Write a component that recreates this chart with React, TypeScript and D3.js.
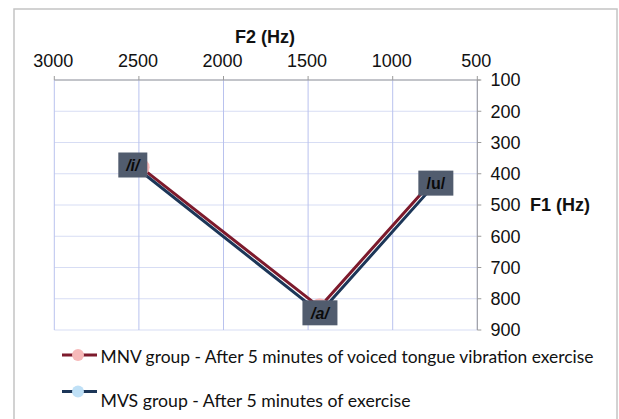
import React from "react";
import * as d3 from "d3";

const vowels = ["/i/", "/a/", "/u/"];
const mnvF2 = [2490, 1432, 758];
const mnvF1 = [379, 827, 419];
const mvsF2 = [2536, 1430, 745];
const mvsF1 = [372, 845, 430];
const xTicks = [3000, 2500, 2000, 1500, 1000, 500];
const yTicks = [100, 200, 300, 400, 500, 600, 700, 800, 900];
const seriesNames = [
  "MNV group - After 5 minutes of voiced tongue vibration exercise",
  "MVS group - After 5 minutes of exercise",
];

const W = 619;
const H = 419;

export default function App() {
  const x = d3.scaleLinear().domain([3000, 500]).range([54.3, 477.3]);
  const y = d3.scaleLinear().domain([100, 900]).range([80, 330]);
  const line = d3
    .line<[number, number]>()
    .x((d) => x(d[0]))
    .y((d) => y(d[1]));

  const mnv: [number, number][] = mnvF2.map((f2, i) => [f2, mnvF1[i]]);
  const mvs: [number, number][] = mvsF2.map((f2, i) => [f2, mvsF1[i]]);

  const series = [
    { pts: mnv, stroke: "#7d1a2c", fill: "#f6b9b9" },
    { pts: mvs, stroke: "#1c3658", fill: "#bfe0f6" },
  ];

  const [x0, x1] = x.range();
  const [y0, y1] = y.range();
  const tickFont = "'Liberation Sans', Arial, Helvetica, sans-serif";

  return (
    <div style={{ position: "fixed", left: 0, top: 0, width: W, height: H, background: "#fff" }}>
      <svg width={W} height={H} style={{ display: "block" }}>
        <rect x={0} y={0} width={W} height={H} fill="#fff" />
        <rect x={14} y={9} width={603} height={430} fill="none" stroke="#c4c4c4" strokeWidth={1.5} />

        {/* horizontal gridlines */}
        {yTicks.map((t) => (
          <line key={"hg" + t} x1={x0} x2={x1} y1={y(t)} y2={y(t)} stroke="#d7ddf4" strokeWidth={1} />
        ))}
        {/* vertical gridlines */}
        {xTicks.map((t) => (
          <line key={"vg" + t} x1={x(t)} x2={x(t)} y1={y0} y2={y1} stroke="#b9c2ee" strokeWidth={1} />
        ))}

        {/* top axis */}
        <line x1={x0} x2={x1 + 3} y1={y0} y2={y0} stroke="#9a9a9a" strokeWidth={1} />
        {xTicks.map((t) => (
          <line key={"xt" + t} x1={x(t)} x2={x(t)} y1={y0 - 4} y2={y0} stroke="#9a9a9a" strokeWidth={1} />
        ))}
        {xTicks.map((t) => (
          <text key={"xl" + t} x={x(t) - 1} y={67} textAnchor="middle" fontFamily={tickFont} fontSize={18} fill="#111">
            {t}
          </text>
        ))}
        <text x={265} y={43} textAnchor="middle" fontFamily={tickFont} fontSize={18} fontWeight="bold" fill="#111">
          F2 (Hz)
        </text>

        {/* right axis */}
        <line x1={x1} x2={x1} y1={y0} y2={y1} stroke="#9a9a9a" strokeWidth={1} />
        {yTicks.map((t) => (
          <line key={"yt" + t} x1={x1} x2={x1 + 4} y1={y(t)} y2={y(t)} stroke="#9a9a9a" strokeWidth={1} />
        ))}
        {yTicks.map((t) => (
          <text key={"yl" + t} x={490.5} y={y(t)} dy="0.36em" fontFamily={tickFont} fontSize={18} fill="#111">
            {t}
          </text>
        ))}
        <text x={530} y={y(500)} dy="0.36em" fontFamily={tickFont} fontSize={18} fontWeight="bold" fill="#111">
          F1 (Hz)
        </text>

        {/* series */}
        {series.map((s, si) => (
          <g key={"s" + si}>
            <path d={line(s.pts) || ""} fill="none" stroke={s.stroke} strokeWidth={3} strokeLinejoin="round" />
            {s.pts.map((p, i) => (
              <circle key={i} cx={x(p[0])} cy={y(p[1])} r={9} fill={s.fill} />
            ))}
          </g>
        ))}

        {/* data labels */}
        {vowels.map((v, i) => {
          const cx = x(mvs[i][0]);
          const cy = y(mvs[i][1]);
          const w = v === "/i/" ? 29 : 35;
          const h = 25;
          return (
            <g key={"lab" + i}>
              <rect x={cx - w / 2} y={cy - h / 2} width={w} height={h} fill="#515c6e" />
              <text
                x={cx}
                y={cy}
                dy="0.36em"
                textAnchor="middle"
                fontFamily={tickFont}
                fontSize={16}
                fontWeight="bold"
                fontStyle={v === "/u/" ? "normal" : "italic"}
                fill="#0a0a0a"
              >
                {v}
              </text>
            </g>
          );
        })}

        {/* legend */}
        {series.map((s, si) => {
          const ly = si === 0 ? 355 : 391.5;
          const ty = si === 0 ? 363 : 406.5;
          return (
            <g key={"leg" + si}>
              <line x1={62} x2={97} y1={ly} y2={ly} stroke={s.stroke} strokeWidth={3} />
              <circle cx={78} cy={ly} r={6} fill={s.fill} />
              <text
                x={100.5}
                y={ty}
                fontFamily="Lato, 'Open Sans', sans-serif"
                fontSize={17}
                fill="#111"
                textLength={si === 0 ? 493 : 310}
                lengthAdjust="spacingAndGlyphs"
              >
                {seriesNames[si]}
              </text>
            </g>
          );
        })}
      </svg>
    </div>
  );
}
